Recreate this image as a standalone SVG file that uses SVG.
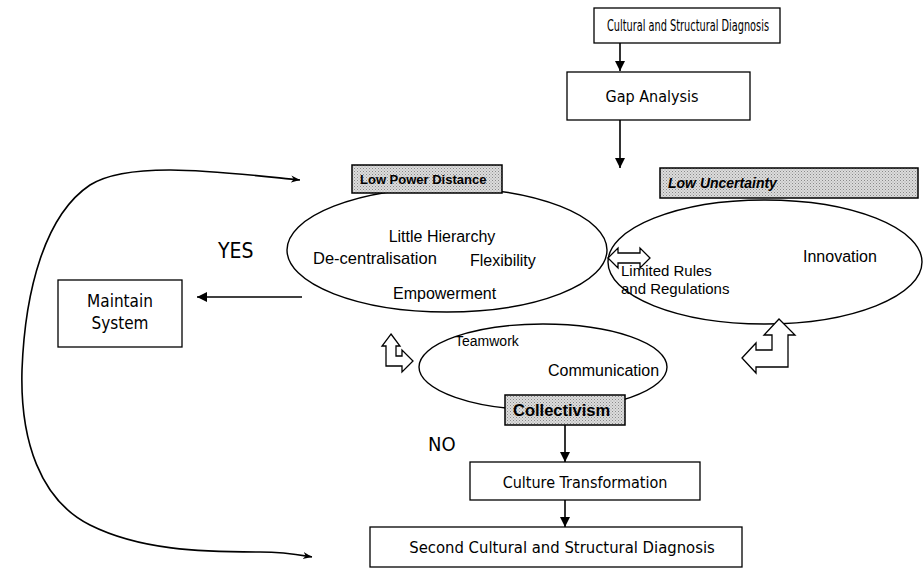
<svg xmlns="http://www.w3.org/2000/svg" width="924" height="576" viewBox="0 0 924 576">
<defs>
<pattern id="stip" width="3" height="3" patternUnits="userSpaceOnUse">
<rect width="3" height="3" fill="#dcdcdc"/>
<rect x="0" y="0" width="1" height="1" fill="#8a8a8a"/>
<rect x="1.5" y="1.5" width="1" height="1" fill="#a0a0a0"/>
</pattern>
<marker id="ah" viewBox="0 0 10 10" refX="10" refY="5" markerWidth="10" markerHeight="10" markerUnits="userSpaceOnUse" orient="auto-start-reverse">
<path d="M0,0 L10,5 L0,10 Z" fill="#000"/>
</marker>
<marker id="ahs" viewBox="0 0 10 10" refX="10" refY="5" markerWidth="9" markerHeight="9" markerUnits="userSpaceOnUse" orient="auto-start-reverse">
<path d="M0,1 L10,5 L0,9 L3,5 Z" fill="#000"/>
</marker>
<style>
.box{fill:#fff;stroke:#000;stroke-width:1.3}
.gbox{fill:url(#stip);stroke:#000;stroke-width:1.5}
.ell{fill:#fff;stroke:#000;stroke-width:1.4}
.t{font-family:"DejaVu Sans Condensed","DejaVu Sans",sans-serif;fill:#000}
.a{font-family:"Liberation Sans",Arial,sans-serif;fill:#000}
.ab{font-family:"Liberation Sans",Arial,sans-serif;font-weight:bold;fill:#000}
.ln{stroke:#000;stroke-width:1.6;fill:none}
.hol{fill:#fff;stroke:#000;stroke-width:1.3;stroke-linejoin:miter}
</style>
</defs>
<rect width="924" height="576" fill="#fff"/>

<g id="connectors">
<line class="ln" x1="620" y1="43" x2="620" y2="71" marker-end="url(#ah)"/>
<line class="ln" x1="620" y1="120" x2="620" y2="168" marker-end="url(#ah)"/>
<line class="ln" x1="302" y1="297" x2="197" y2="297" marker-end="url(#ah)"/>
<line class="ln" x1="565" y1="425" x2="565" y2="462" marker-end="url(#ah)"/>
<line class="ln" x1="565" y1="500" x2="565" y2="527" marker-end="url(#ah)"/>
<path class="ln" d="M300,180 C220,172 130,160 90,185 C45,215 25,290 22,370 C20,440 40,500 90,525 C140,550 200,552 260,552 C285,552 300,555 312,557" marker-start="url(#ahs)" marker-end="url(#ahs)"/>
</g>

<g id="diagnosis">
<rect class="box" x="594" y="8" width="186" height="35"/>
<text class="t" x="607" y="31" font-size="15" textLength="162" lengthAdjust="spacingAndGlyphs">Cultural and Structural Diagnosis</text>
</g>

<g id="gap">
<rect class="box" x="567" y="72" width="183" height="48"/>
<text class="t" x="652" y="102" font-size="16" text-anchor="middle">Gap Analysis</text>
</g>

<g id="power">
<ellipse class="ell" cx="447" cy="250" rx="160" ry="62"/>
<rect class="gbox" x="352" y="165" width="150" height="28"/>
<text class="ab" x="360" y="184" font-size="13">Low Power Distance</text>
<text class="a" x="442" y="242" font-size="16" text-anchor="middle">Little Hierarchy</text>
<text class="a" x="313" y="264" font-size="16.5">De-centralisation</text>
<text class="a" x="470" y="266" font-size="16">Flexibility</text>
<text class="a" x="393" y="299" font-size="16">Empowerment</text>
</g>

<g id="uncertainty">
<ellipse class="ell" cx="765" cy="262" rx="157" ry="62"/>
<rect class="gbox" x="660" y="168" width="258" height="30"/>
<text class="ab" x="668" y="188" font-size="14" font-style="italic">Low Uncertainty</text>
<text class="a" x="803" y="262" font-size="16">Innovation</text>
<text class="a" x="621" y="276" font-size="15">Limited Rules</text>
<text class="a" x="621" y="294" font-size="15">and Regulations</text>
</g>

<g id="double-arrow">
<path class="hol" d="M608,258 L618,248 L618,253 L640,253 L640,248 L650,258 L640,268 L640,263 L618,263 L618,268 Z"/>
</g>

<g id="collectivism">
<ellipse class="ell" cx="543" cy="367" rx="124" ry="43"/>
<rect class="gbox" x="505" y="395" width="120" height="30"/>
<text class="ab" x="513" y="416" font-size="16.5">Collectivism</text>
<text class="a" x="455" y="346" font-size="14">Teamwork</text>
<text class="a" x="548" y="376" font-size="16">Communication</text>
</g>

<g id="left-turn-arrow">
<path class="hol" d="M391,334 L400,346 L396,346 L396,356 L402,356 L402,350 L413,361 L402,372 L402,366 L386,366 L386,346 L382,346 Z"/>
</g>

<g id="right-turn-arrow">
<path class="hol" d="M742,358 L756,343 L756,350 L772,350 L772,335 L764,335 L779,319 L795,335 L788,335 L788,367 L756,367 L756,373 Z"/>
</g>

<g id="yes">
<text class="t" x="218" y="258" font-size="21">YES</text>
</g>

<g id="maintain">
<rect class="box" x="58" y="280" width="124" height="67"/>
<text class="t" x="120" y="307" font-size="17" text-anchor="middle">Maintain</text>
<text class="t" x="120" y="329" font-size="17" text-anchor="middle">System</text>
</g>

<g id="no">
<text class="t" x="428" y="451" font-size="20">NO</text>
</g>

<g id="transformation">
<rect class="box" x="470" y="462" width="230" height="38"/>
<text class="t" x="585" y="488" font-size="16" text-anchor="middle">Culture Transformation</text>
</g>

<g id="second">
<rect class="box" x="370" y="527" width="372" height="40"/>
<text class="t" x="562" y="553" font-size="16.5" text-anchor="middle">Second Cultural and Structural Diagnosis</text>
</g>
</svg>
